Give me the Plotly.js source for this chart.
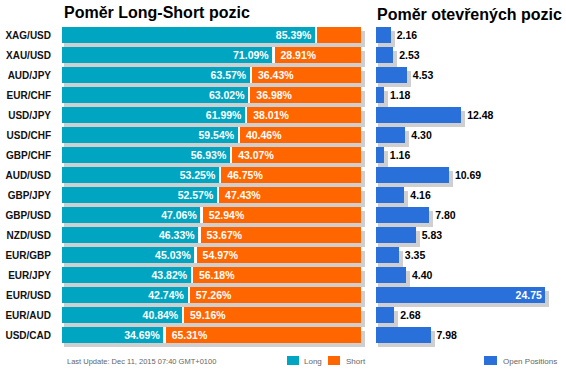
<!DOCTYPE html>
<html>
<head>
<meta charset="utf-8">
<script src="https://cdn.plot.ly/plotly-3.0.1.min.js"></script>
<style>html,body{margin:0;padding:0;background:#fff;}#chart{width:566px;height:372px;}</style>
</head>
<body>
<div id="chart"></div>
<script>
// ---- data ----
const pairs = ['XAG/USD','XAU/USD','AUD/JPY','EUR/CHF','USD/JPY','USD/CHF','GBP/CHF','AUD/USD','GBP/JPY','GBP/USD','NZD/USD','EUR/GBP','EUR/JPY','EUR/USD','EUR/AUD','USD/CAD'];
const longPct = [85.39,71.09,63.57,63.02,61.99,59.54,56.93,53.25,52.57,47.06,46.33,45.03,43.82,42.74,40.84,34.69];
const shortPct = [14.61,28.91,36.43,36.98,38.01,40.46,43.07,46.75,47.43,52.94,53.67,54.97,56.18,57.26,59.16,65.31];
const openPos = [2.16,2.53,4.53,1.18,12.48,4.30,1.16,10.69,4.16,7.80,5.83,3.35,4.40,24.75,2.68,7.98];

// ---- styling ----
const W = 566, H = 372;
const TEAL = '#00A5C1', ORANGE = '#FF6600', BLUE = '#2970DA', SHADOW = '#CFCFCF';
const FONT = 'Arial, "Liberation Sans", sans-serif';
const leftPx = 2.99;   // px per percent
const rightPx = 6.83;  // px per unit
const leftRange = [0, 102], rightRange = [0, 26];
const L0 = 62, R0 = 376;

const total = longPct.map((v,i)=>v+shortPct[i]);
const gap = 0.75;

const traces = [
  // left shadows
  {type:'bar', orientation:'h', y:pairs, x:total.map(t=>t+4/leftPx-2/leftPx), base:2/leftPx,
   width:0.8, offset:-0.2, marker:{color:SHADOW}, xaxis:'x', yaxis:'y', hoverinfo:'skip'},
  // long
  {type:'bar', orientation:'h', name:'Long', y:pairs, x:longPct, base:0, width:0.8, offset:-0.4,
   marker:{color:TEAL}, text:longPct.map(v=>v.toFixed(2)+'%\u00a0'), textposition:'inside',
   insidetextanchor:'end', textfont:{family:FONT, size:10.5, color:'#fff', weight:'bold'},
   constraintext:'none', xaxis:'x', yaxis:'y', hoverinfo:'skip'},
  // short
  {type:'bar', orientation:'h', name:'Short', y:pairs, x:shortPct, base:longPct, width:0.8, offset:-0.4,
   marker:{color:ORANGE}, text:shortPct.map(v=> v<20 ? '' : '\u00a0'+v.toFixed(2)+'%'), textposition:'inside',
   insidetextanchor:'start', textfont:{family:FONT, size:10.5, color:'#fff', weight:'bold'},
   constraintext:'none', xaxis:'x', yaxis:'y', hoverinfo:'skip'},
  // white separator
  {type:'bar', orientation:'h', y:pairs, x:longPct.map(()=>gap), base:longPct.map(v=>v-gap),
   width:0.8, offset:-0.4, marker:{color:'#fff'}, xaxis:'x', yaxis:'y', hoverinfo:'skip'},
  // right shadows
  {type:'bar', orientation:'h', y:pairs, x:openPos.map(v=>v+4/rightPx-2/rightPx), base:2/rightPx,
   width:0.8, offset:-0.2, marker:{color:SHADOW}, xaxis:'x2', yaxis:'y', hoverinfo:'skip'},
  // open positions
  {type:'bar', orientation:'h', name:'Open Positions', y:pairs, x:openPos, base:0, width:0.8, offset:-0.4,
   marker:{color:BLUE},
   text:openPos.map(v=> v > 20 ? v.toFixed(2) : '\u00a0'+v.toFixed(2)),
   textposition:openPos.map(v=> v > 20 ? 'inside' : 'outside'),
   insidetextanchor:'end',
   insidetextfont:{family:FONT, size:10.5, color:'#fff', weight:'bold'},
   outsidetextfont:{family:FONT, size:10.5, color:'#000', weight:'bold'},
   cliponaxis:false, constraintext:'none', xaxis:'x2', yaxis:'y', hoverinfo:'skip'}
];

const yTop = 25, yBot = 25 + 16.1*20;
const layout = {
  width:W, height:H, margin:{l:0,r:0,t:0,b:0}, paper_bgcolor:'#fff', plot_bgcolor:'rgba(0,0,0,0)',
  showlegend:false, barmode:'overlay', bargap:0,
  font:{family:FONT},
  xaxis:{domain:[L0/W, (L0+leftRange[1]*leftPx)/W], range:leftRange, visible:false, fixedrange:true, anchor:'y'},
  xaxis2:{domain:[R0/W, (R0+rightRange[1]*rightPx)/W], range:rightRange, visible:false, fixedrange:true, anchor:'y'},
  yaxis:{domain:[1-yBot/H, 1-yTop/H], type:'category', categoryarray:pairs, categoryorder:'array',
    range:[15.6,-0.5], anchor:'x', showgrid:false, zeroline:false, showline:false,
    ticks:'outside', ticklen:8, tickcolor:'rgba(0,0,0,0)',
    tickfont:{family:FONT, size:10, color:'#111', weight:'bold'}, fixedrange:true},
  annotations:[
    {text:'Poměr Long-Short pozic', xref:'paper', yref:'paper', x:L0/W, y:1-13/H, xanchor:'left', yanchor:'middle',
     showarrow:false, font:{family:FONT, size:16, color:'#000', weight:'bold'}},
    {text:'Poměr otevřených pozic', xref:'paper', yref:'paper', x:(R0-1)/W, y:1-15/H, xanchor:'left', yanchor:'middle',
     showarrow:false, font:{family:FONT, size:16, color:'#000', weight:'bold'}},
    {text:'Last Update: Dec 11, 2015 07:40 GMT+0100', xref:'paper', yref:'paper', x:65/W, y:1-361/H,
     xanchor:'left', yanchor:'middle', showarrow:false, font:{family:FONT, size:7.5, color:'#666'}},
    {text:'Long', xref:'paper', yref:'paper', x:302/W, y:1-361/H, xanchor:'left', yanchor:'middle',
     showarrow:false, font:{family:FONT, size:8, color:'#666'}},
    {text:'Short', xref:'paper', yref:'paper', x:344/W, y:1-361/H, xanchor:'left', yanchor:'middle',
     showarrow:false, font:{family:FONT, size:8, color:'#666'}},
    {text:'Open Positions', xref:'paper', yref:'paper', x:501/W, y:1-361/H, xanchor:'left', yanchor:'middle',
     showarrow:false, font:{family:FONT, size:8, color:'#666'}}
  ],
  shapes:[
    {type:'rect', xref:'paper', yref:'paper', x0:287/W, x1:299/W, y0:1-365/H, y1:1-356/H, fillcolor:TEAL, line:{width:0}},
    {type:'rect', xref:'paper', yref:'paper', x0:328/W, x1:340/W, y0:1-365/H, y1:1-356/H, fillcolor:ORANGE, line:{width:0}},
    {type:'rect', xref:'paper', yref:'paper', x0:484/W, x1:497/W, y0:1-365/H, y1:1-356/H, fillcolor:BLUE, line:{width:0}}
  ]
};

Plotly.newPlot('chart', traces, layout, {staticPlot:true, displayModeBar:false});
</script>
</body>
</html>
